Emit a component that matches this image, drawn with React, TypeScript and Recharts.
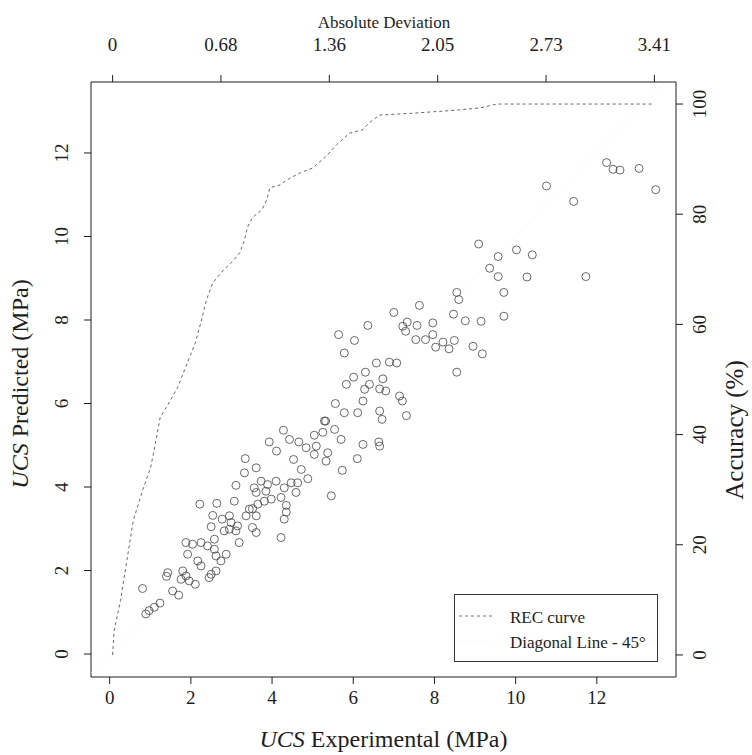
import { ScatterChart, Scatter, XAxis, YAxis, Legend, Label } from 'recharts';

const FONT = '"Liberation Serif", "Times New Roman", serif';
const INK = '#1e1e1e';

// bottom / left axes (MPa)
const mpaTicks = [0, 2, 4, 6, 8, 10, 12];
// top axis (absolute deviation) and right axis (accuracy %)
const deviationTicks = [0, 0.682, 1.364, 2.046, 2.728, 3.41];
const accuracyTicks = [0, 20, 40, 60, 80, 100];

const ucsExperimental = [
  0.89, 0.97, 1.1, 1.24, 0.81, 1.55, 1.7, 1.43, 1.4, 1.8, 1.76, 1.88, 1.96, 2.11, 2.45, 2.5, 2.62, 2.25, 2.17, 1.92,
  2.74, 2.62, 2.87, 2.58, 2.41, 2.58, 2.25, 2.04, 1.88, 3.19, 2.82, 2.95, 3.11, 3.15, 2.5, 2.99, 2.77, 2.95, 2.54, 2.22,
  2.64, 3.07, 3.11, 3.32, 3.61, 3.34, 3.61, 3.52, 3.36, 3.61, 3.44, 3.52, 3.65, 3.81, 3.98, 4.22, 3.85, 3.61, 3.56, 3.73,
  3.89, 4.1, 4.3, 4.59, 4.47, 4.63, 4.88, 4.72, 4.53, 4.35, 4.35, 4.3, 4.22, 4.11, 3.93, 4.28, 4.43, 4.66, 4.84, 5.04,
  5.25, 5.29, 5.54, 5.09, 5.04, 5.37, 5.33, 5.46, 5.73, 6.1, 5.7, 6.24, 6.63, 6.65, 5.32, 5.56, 5.78, 6.11, 6.65, 6.71,
  7.31, 7.14, 7.21, 6.24, 6.28, 6.4, 6.65, 6.8, 6.73, 5.83, 6.01, 6.3, 6.57, 6.89, 7.07, 5.78, 6.03, 5.64, 6.36, 7.0,
  7.22, 7.29, 7.33, 7.57, 7.54, 7.78, 7.96, 7.96, 7.63, 8.03, 8.21, 8.36, 8.49, 8.55, 8.95, 9.18, 8.76, 9.15, 8.47, 8.55,
  8.6, 9.71, 9.71, 9.36, 9.57, 9.57, 9.09, 10.02, 10.41, 10.28, 11.73, 10.76, 11.43, 12.24, 12.4, 12.57, 13.04, 13.45,
];
const ucsPredicted = [
  0.96, 1.04, 1.12, 1.22, 1.57, 1.51, 1.41, 1.95, 1.86, 1.99, 1.79, 1.87, 1.75, 1.67, 1.83, 1.91, 1.99, 2.11, 2.23, 2.39,
  2.23, 2.35, 2.39, 2.51, 2.59, 2.75, 2.67, 2.63, 2.67, 2.67, 2.95, 2.99, 2.95, 3.07, 3.05, 3.15, 3.23, 3.31, 3.32, 3.59,
  3.61, 3.66, 4.04, 4.34, 4.46, 4.68, 2.91, 3.03, 3.31, 3.31, 3.47, 3.48, 3.59, 3.66, 3.71, 3.75, 3.9, 3.87, 3.98, 4.14,
  4.06, 4.14, 3.98, 3.87, 4.1, 4.1, 4.2, 4.42, 4.66, 3.56, 3.4, 3.23, 2.79, 4.86, 5.08, 5.36, 5.14, 5.08, 4.94, 5.24,
  5.31, 5.58, 5.38, 4.98, 4.78, 4.82, 4.62, 3.79, 4.4, 4.68, 5.14, 5.02, 5.08, 4.98, 5.58, 6.0, 5.78, 5.78, 5.82, 5.62,
  5.71, 6.18, 6.06, 6.06, 6.34, 6.46, 6.35, 6.3, 6.59, 6.46, 6.63, 6.75, 6.97, 6.99, 6.97, 7.21, 7.51, 7.65, 7.87, 8.18,
  7.85, 7.73, 7.95, 7.87, 7.53, 7.53, 7.65, 7.93, 8.35, 7.35, 7.47, 7.31, 7.51, 6.75, 7.37, 7.19, 7.98, 7.97, 8.14, 8.66,
  8.49, 8.09, 8.66, 9.24, 9.04, 9.52, 9.82, 9.68, 9.56, 9.03, 9.04, 11.21, 10.84, 11.77, 11.61, 11.59, 11.63, 11.12,
];

// REC curve: absolute deviation vs accuracy (%)
const recDeviation = [
  0, 0.01, 0.05, 0.09, 0.13, 0.19, 0.24, 0.27, 0.3, 0.34, 0.41, 0.47, 0.52, 0.56, 0.59, 0.63, 0.66, 0.7, 0.75, 0.8, 0.83,
  0.85, 0.88, 0.94, 0.97, 0.99, 1.05, 1.12, 1.18, 1.26, 1.34, 1.41, 1.49, 1.57, 1.62, 1.68, 1.87, 2.02, 2.17, 2.31, 2.42,
  3.41,
];
const recAccuracy = [
  0, 4.5, 9.9, 17.2, 24.4, 30, 34.1, 38.5, 43.2, 45, 48.6, 53, 56.6, 60.8, 64.4, 67.5, 68.6, 69.9, 71.3, 73, 75.3, 77.7,
  79.4, 80.8, 82.6, 84.8, 85.3, 86.6, 87.5, 88.4, 90.4, 92.6, 94.7, 95.3, 96.7, 98, 98.3, 98.6, 98.9, 99.3, 100, 100,
];

const diagonalEnds = [-0.45, 13.7];

const points = ucsExperimental.map((x, i) => ({ x, y: ucsPredicted[i] }));
const rec = recDeviation.map((x, i) => ({ x, y: recAccuracy[i] }));
const diagonal = diagonalEnds.map((v) => ({ x: v, y: v }));

const tickText = { fontFamily: FONT, fontSize: 19, fill: INK };

function BottomTick({ x, y, payload }: any) {
  return (
    <text x={x} y={y + 18} textAnchor="middle" {...tickText}>
      {payload.value}
    </text>
  );
}

function TopTick({ x, y, payload }: any) {
  const v = payload.value;
  return (
    <text x={x} y={y - 22} textAnchor="middle" {...tickText}>
      {v === 0 ? '0' : v.toFixed(2)}
    </text>
  );
}

function LeftTick({ x, y, payload }: any) {
  return (
    <text transform={`translate(${x - 14},${y}) rotate(-90)`} textAnchor="middle" {...tickText}>
      {payload.value}
    </text>
  );
}

function RightTick({ x, y, payload }: any) {
  return (
    <text transform={`translate(${x + 21},${y}) rotate(-90)`} textAnchor="middle" {...tickText}>
      {payload.value}
    </text>
  );
}

function OpenCircle({ cx, cy }: any) {
  return <circle cx={cx} cy={cy} r={4} fill="none" stroke="#444" strokeWidth={0.8} />;
}

function LegendBox() {
  return (
    <svg width={204} height={68} style={{ display: 'block' }}>
      <rect x={0.5} y={0.5} width={203} height={67} fill="#fff" stroke="#333" strokeWidth={1} />
      <line x1={5} x2={38} y1={22} y2={22} stroke="#777" strokeWidth={1} strokeDasharray="3 3" />
      <text x={56} y={29} fontFamily={FONT} fontSize={17} fill={INK}>
        REC curve
      </text>
      <line x1={5} x2={38} y1={47} y2={47} stroke="#f0f0f0" strokeWidth={1} strokeDasharray="1 3" />
      <text x={56} y={54} fontFamily={FONT} fontSize={17} fill={INK}>
        Diagonal Line - 45°
      </text>
    </svg>
  );
}

const axisLine = { stroke: INK, strokeWidth: 1 };

export default function App() {
  return (
    <div style={{ position: 'absolute', left: 0, top: 0, background: '#fff' }}>
      <ScatterChart width={752} height={755} margin={{ top: 0, right: 0, bottom: 0, left: 0 }}>
        <XAxis
          xAxisId="exp"
          type="number"
          dataKey="x"
          orientation="bottom"
          domain={[-0.46, 13.95]}
          allowDataOverflow
          ticks={mpaTicks}
          interval={0}
          height={78}
          tickSize={7}
          axisLine={axisLine}
          tickLine={axisLine}
          tick={<BottomTick />}
        >
          <Label
            content={() => (
              <text x={383.5} y={747} textAnchor="middle" fontFamily={FONT} fontSize={24} fill={INK}>
                <tspan fontStyle="italic">UCS</tspan> Experimental (MPa)
              </text>
            )}
          />
        </XAxis>
        <XAxis
          xAxisId="dev"
          type="number"
          dataKey="x"
          orientation="top"
          domain={[-0.136, 3.546]}
          allowDataOverflow
          ticks={deviationTicks}
          interval={0}
          height={82}
          tickSize={7}
          axisLine={axisLine}
          tickLine={axisLine}
          tick={<TopTick />}
        >
          <Label
            content={() => (
              <text x={384} y={28} textAnchor="middle" fontFamily={FONT} fontSize={17} fill={INK}>
                Absolute Deviation
              </text>
            )}
          />
        </XAxis>
        <YAxis
          yAxisId="pred"
          type="number"
          dataKey="y"
          orientation="left"
          domain={[-0.55, 13.7]}
          allowDataOverflow
          ticks={mpaTicks}
          interval={0}
          width={91}
          tickSize={7}
          axisLine={axisLine}
          tickLine={axisLine}
          tick={<LeftTick />}
        >
          <Label
            content={() => (
              <text
                transform="translate(28,384) rotate(-90)"
                textAnchor="middle"
                fontFamily={FONT}
                fontSize={24}
                fill={INK}
              >
                <tspan fontStyle="italic">UCS</tspan> Predicted (MPa)
              </text>
            )}
          />
        </YAxis>
        <YAxis
          yAxisId="acc"
          type="number"
          dataKey="y"
          orientation="right"
          domain={[-4, 104]}
          allowDataOverflow
          ticks={accuracyTicks}
          interval={0}
          width={76}
          tickSize={7}
          axisLine={axisLine}
          tickLine={axisLine}
          tick={<RightTick />}
        >
          <Label
            content={() => (
              <text
                transform="translate(743,430) rotate(-90)"
                textAnchor="middle"
                fontFamily={FONT}
                fontSize={25}
                fill={INK}
              >
                Accuracy (%)
              </text>
            )}
          />
        </YAxis>

        <Scatter
          data={diagonal}
          xAxisId="exp"
          yAxisId="pred"
          line={{ stroke: '#ececec', strokeWidth: 1, strokeDasharray: '1 3' }}
          shape={() => <g />}
          isAnimationActive={false}
        />
        <Scatter
          data={rec}
          xAxisId="dev"
          yAxisId="acc"
          line={{ stroke: '#666', strokeWidth: 1, strokeDasharray: '3 3' }}
          shape={() => <g />}
          isAnimationActive={false}
        />
        <Scatter data={points} xAxisId="exp" yAxisId="pred" shape={<OpenCircle />} isAnimationActive={false} />

        <Legend
          layout="vertical"
          align="center"
          verticalAlign="middle"
          wrapperStyle={{ position: 'absolute', left: 454, top: 594, width: 204, height: 68 }}
          content={() => <LegendBox />}
        />
      </ScatterChart>
    </div>
  );
}
